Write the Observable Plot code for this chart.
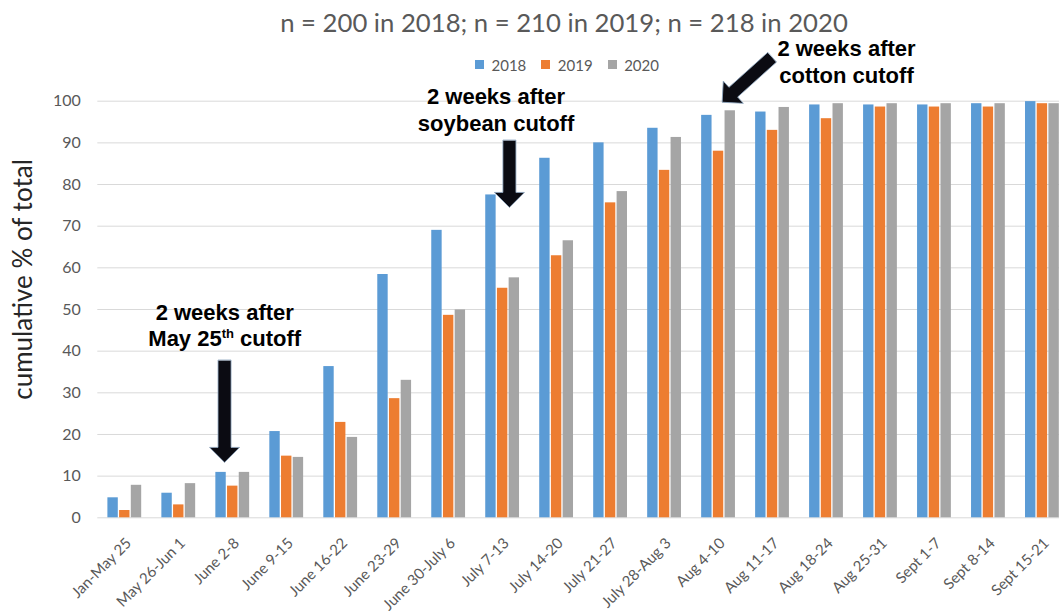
<!DOCTYPE html>
<html>
<head>
<meta charset="utf-8">
<script src="https://cdn.jsdelivr.net/npm/d3@7"></script>
<script src="https://cdn.jsdelivr.net/npm/@observablehq/plot@0.6"></script>
<style>
  body { margin: 0; background: #fff; }
  #wrap { position: relative; width: 1059px; height: 614px; overflow: hidden; font-family: Lato, sans-serif; }
  #title { position: absolute; left: 564px; top: 7px; transform: translateX(-50%); white-space: nowrap;
           font-size: 25.7px; line-height: 1.2; color: #595959; }
  #legend { position: absolute; left: 475px; top: 48px; }
  #chart { position: absolute; left: 0; top: 0; }
</style>
</head>
<body>
<div id="wrap">
  <div id="chart"></div>
  <div id="title">n = 200 in 2018; n = 210 in 2019; n = 218 in 2020</div>
  <div id="legend"></div>
</div>
<script>
// ---- data ----
const weeks = ["Jan-May 25","May 26-Jun 1","June 2-8","June 9-15","June 16-22","June 23-29",
  "June 30-July 6","July 7-13","July 14-20","July 21-27","July 28-Aug 3","Aug 4-10",
  "Aug 11-17","Aug 18-24","Aug 25-31","Sept 1-7","Sept 8-14","Sept 15-21"];
const years = ["2018", "2019", "2020"];
const v2018 = [4.8, 5.9, 10.9, 20.7, 36.3, 58.4, 69.0, 77.5, 86.3, 90.0, 93.5, 96.6, 97.4, 99.1, 99.1, 99.1, 99.4, 99.9];
const v2019 = [1.75, 3.1, 7.6, 14.8, 22.9, 28.6, 48.6, 55.1, 62.9, 75.6, 83.4, 88.0, 93.0, 95.8, 98.6, 98.6, 98.6, 99.4];
const v2020 = [7.8, 8.2, 10.9, 14.5, 19.3, 33.0, 49.9, 57.6, 66.5, 78.3, 91.3, 97.7, 98.5, 99.4, 99.4, 99.4, 99.4, 99.4];
const yTicks = [0, 10, 20, 30, 40, 50, 60, 70, 80, 90, 100];
const yLabel = "cumulative % of total";
const noteWeeks = ["June 2-8", "July 7-13", "Aug 4-10"];
const noteTexts = ["2 weeks after\nMay 25th cutoff", "2 weeks after\nsoybean cutoff", "2 weeks after\ncotton cutoff"];

const colors = ["#5B9BD5", "#ED7D31", "#A5A5A5"];
const series = [v2018, v2019, v2020];
const rows = weeks.flatMap((w, i) => years.map((yr, k) => ({week: w, year: yr, value: series[k][i]})));

// ---- layout ----
const W = 1059, H = 614;
const mL = 97.3, mR = -9.9, mT = 100.7, mB = 96.7;
const bw = (W - mL - mR) / weeks.length;
const barW = 10.4, barStep = 11.7;

const blockArrow = {
  draw(context, l) {
    const hw = 15, hl = 15, sw = 6.5;
    context.moveTo(-sw, 0);
    context.lineTo(-sw, -(l - hl));
    context.lineTo(-hw, -(l - hl));
    context.lineTo(0, -l);
    context.lineTo(hw, -(l - hl));
    context.lineTo(sw, -(l - hl));
    context.lineTo(sw, 0);
    context.closePath();
  }
};

const barMarks = years.map((yr, k) => {
  const off = (k - 1) * barStep;
  return Plot.barY(rows.filter(d => d.year === yr), {
    x: "week", y: "value", fill: colors[k],
    insetLeft: bw / 2 + off - barW / 2,
    insetRight: bw / 2 - off - barW / 2
  });
});

const noteFont = {fontFamily: "'Liberation Sans', Arial, sans-serif", fontWeight: "bold", fontSize: 22, fill: "#000", lineHeight: 1.2, textAnchor: "middle", lineAnchor: "middle"};
const arrowStyle = {shape: blockArrow, anchor: "end", fill: "#0b0b12", stroke: "#8ea6c0", strokeWidth: 0.8};

const plot = Plot.plot({
  width: W, height: H,
  marginLeft: mL, marginRight: mR, marginTop: mT, marginBottom: mB,
  style: {fontFamily: "Lato, sans-serif", background: "transparent"},
  x: {type: "band", domain: weeks, padding: 0, round: false},
  y: {domain: [0, 100]},
  marks: [
    Plot.gridY(yTicks, {stroke: "#d9d9d9", strokeOpacity: 1, strokeWidth: 1}),
    ...barMarks,
    Plot.axisY({ticks: yTicks, tickSize: 0, tickPadding: 17, fontSize: 16, fill: "#595959", label: null}),
    Plot.axisX({tickRotate: -45, tickSize: 0, tickPadding: 23, dx: 4, fontSize: 15, fill: "#595959", label: null}),
    Plot.text([yLabel], {text: d => d, frameAnchor: "left", textAnchor: "middle", dx: -74, dy: -30, rotate: -90, fontSize: 26, fill: "#262626"}),
    // annotations
    Plot.text([noteTexts[0]], {text: d => d, x: () => noteWeeks[0], y: () => 46.4, dx: -8, ...noteFont}),
    Plot.text([noteTexts[1]], {text: d => d, x: () => noteWeeks[1], y: () => 98.1, dx: -6.6, ...noteFont}),
    Plot.text([noteTexts[2]], {text: d => d, x: () => "Aug 18-24", y: () => 109.6, dx: 20, ...noteFont}),
    Plot.vector([noteWeeks[0]], {x: d => d, y: () => 13.3, length: 102, rotate: 180, dx: -8.2, ...arrowStyle}),
    Plot.vector([noteWeeks[1]], {x: d => d, y: () => 74.5, length: 67, rotate: 180, dx: 6.8, ...arrowStyle}),
    Plot.vector([noteWeeks[2]], {x: d => d, y: () => 99.75, length: 67, rotate: 228, dx: 3.6, ...arrowStyle})
  ]
});

// superscript "th"
d3.select(plot).selectAll("tspan").filter(function() { return this.textContent === "May 25th cutoff"; })
  .each(function() {
    const t = d3.select(this);
    t.text("May 25");
    t.append("tspan").attr("dy", -8).attr("font-size", 13).text("th");
    t.append("tspan").attr("dy", 8).attr("font-size", 22).text(" cutoff");
  });

document.getElementById("chart").appendChild(plot);

const legend = Plot.legend({
  color: {type: "ordinal", domain: years, range: colors},
  swatchSize: 9,
  style: {fontFamily: "Lato, sans-serif", fontSize: "15px", color: "#595959", background: "transparent"}
});
document.getElementById("legend").appendChild(legend);
</script>
</body>
</html>
